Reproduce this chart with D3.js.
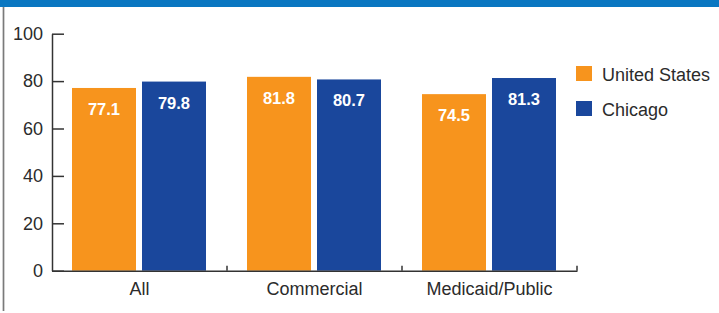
<!DOCTYPE html>
<html>
<head>
<meta charset="utf-8">
<script src="https://cdn.jsdelivr.net/npm/d3@7"></script>
<style>
  body { margin: 0; background: #fff; }
  text { font-family: "Liberation Sans", Arial, sans-serif; }
</style>
</head>
<body>
<script>
//chart data
var categories = ["All", "Commercial", "Medicaid/Public"];
var series = ["United States", "Chicago"];
var usValues = [77.1, 81.8, 74.5];
var chicagoValues = [79.8, 80.7, 81.3];
var yTicks = [0, 20, 40, 60, 80, 100];

//colours per series
var colors = ["#F7941D", "#1A479C"];

//size of page and plot area
var W = 719, H = 313;
var plot = {left: 52, right: 577, top: 33.7, bottom: 270.7};

//rows for the bars
var rows = categories.map(function(c, i) {
    return {cat: c, values: [usValues[i], chicagoValues[i]]};
});

//scales
var x = d3.scaleBand().domain(categories).range([plot.left, plot.right]).padding(0);
var x1 = d3.scaleBand().domain(series).range([20, x.bandwidth() - 21]).paddingInner(0.0857).paddingOuter(0);
var y = d3.scaleLinear().domain([0, 100]).range([plot.bottom, plot.top]);

var svg = d3.select("body").append("svg")
    .attr("width", W)
    .attr("height", H);

//blue band along the top
svg.append("rect")
    .attr("x", 0).attr("y", 0)
    .attr("width", W).attr("height", 7)
    .attr("fill", "#0a77c1");

//grey rule on the left edge
svg.append("line")
    .attr("x1", 3.5).attr("x2", 3.5)
    .attr("y1", 7).attr("y2", 311)
    .attr("stroke", "#7a7a7a")
    .attr("stroke-width", 1.7);

//bars, grouped by category
var groups = svg.selectAll(".grp")
    .data(rows)
    .enter().append("g")
    .attr("class", "grp")
    .attr("transform", function(d) { return "translate(" + x(d.cat) + ",0)"; });

groups.selectAll("rect")
    .data(function(d) { return d.values.map(function(v, i) { return {s: series[i], v: v, i: i}; }); })
    .enter().append("rect")
    .attr("x", function(d) { return x1(d.s); })
    .attr("y", function(d) { return y(d.v); })
    .attr("width", x1.bandwidth())
    .attr("height", function(d) { return y(0) - y(d.v); })
    .attr("fill", function(d) { return colors[d.i]; });

//value labels inside the bars
groups.selectAll(".val")
    .data(function(d) { return d.values.map(function(v, i) { return {s: series[i], v: v}; }); })
    .enter().append("text")
    .attr("class", "val")
    .attr("x", function(d) { return x1(d.s) + x1.bandwidth() / 2; })
    .attr("y", function(d) { return y(d.v) + 27; })
    .attr("text-anchor", "middle")
    .attr("fill", "#fff")
    .style("font-size", "16.5px")
    .style("font-weight", "bold")
    .text(function(d) { return d.v.toFixed(1); });

//y axis with ticks pointing inward
var yAxis = svg.append("g")
    .attr("transform", "translate(" + plot.left + ",0)")
    .call(d3.axisLeft(y).tickValues(yTicks).tickSizeInner(-12).tickSizeOuter(0).tickPadding(9));
yAxis.selectAll("path, line").attr("stroke", "#333").attr("stroke-width", 1.5);
yAxis.selectAll("text")
    .attr("fill", "#2b2b2b")
    .style("font-size", "18px")
    .style("font-family", "'Liberation Sans', Arial, sans-serif");

//x axis baseline and labels
var xAxis = svg.append("g")
    .attr("transform", "translate(0," + plot.bottom + ")")
    .call(d3.axisBottom(x).tickSize(0).tickPadding(11.5));
xAxis.select(".domain").attr("stroke", "#333").attr("stroke-width", 1.5);
xAxis.selectAll("text")
    .attr("fill", "#2b2b2b")
    .style("font-size", "18px")
    .style("font-family", "'Liberation Sans', Arial, sans-serif");

//small upward ticks between categories
svg.selectAll(".sep")
    .data(categories)
    .enter().append("line")
    .attr("class", "sep")
    .attr("x1", function(d) { return x(d) + x.bandwidth(); })
    .attr("x2", function(d) { return x(d) + x.bandwidth(); })
    .attr("y1", plot.bottom)
    .attr("y2", plot.bottom - 5)
    .attr("stroke", "#333")
    .attr("stroke-width", 1.5);

//legend
var legend = svg.selectAll(".leg")
    .data(series)
    .enter().append("g")
    .attr("class", "leg")
    .attr("transform", function(d, i) { return "translate(576," + (66 + i * 35) + ")"; });

legend.append("rect")
    .attr("width", 16).attr("height", 15)
    .attr("fill", function(d, i) { return colors[i]; });

legend.append("text")
    .attr("x", 26)
    .attr("y", 14.5)
    .attr("fill", "#2b2b2b")
    .style("font-size", "18px")
    .text(function(d) { return d; });
</script>
</body>
</html>
